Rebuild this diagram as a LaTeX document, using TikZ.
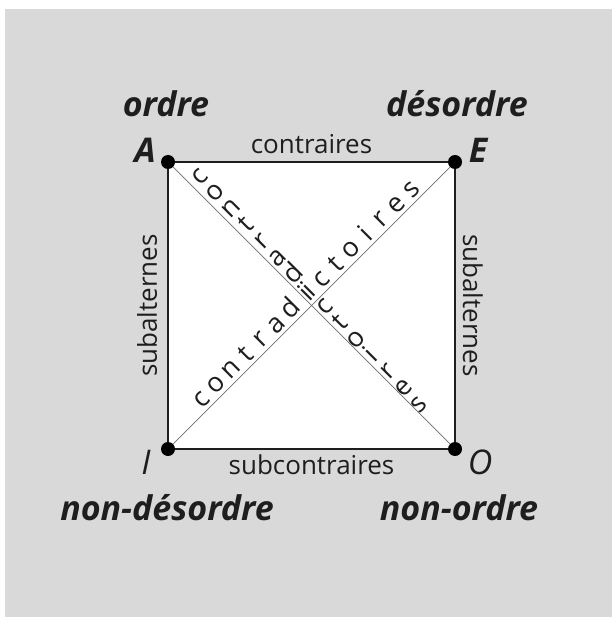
\documentclass[tikz,border=0pt]{standalone}
\usepackage{fontspec}
\setmainfont{Open Sans}
\usepackage{xcolor}
\usetikzlibrary{positioning}
\definecolor{cBack}{HTML}{D9D9D9}
\definecolor{cDiag}{HTML}{6E6E6E}
\definecolor{cInk}{HTML}{1E1E1E}
\tikzset{
  sqdot/.style={circle,fill=black,inner sep=0pt,minimum size=14pt},
  sqside/.style={line width=1.8pt,draw=cInk},
  sqdiag/.style={line width=0.7pt,draw=cDiag},
  sqrel/.style={font=\fontsize{26}{28}\selectfont,text=cInk,inner xsep=0pt},
  sqvert/.style={font=\fontsize{34}{36}\selectfont\bfseries\itshape,text=cInk,
      inner sep=0pt,anchor=base},
  sqterm/.style={font=\fontsize{34}{36}\selectfont\bfseries\itshape,text=cInk,
      inner sep=0pt,anchor=base},
  sqletter/.style={font=\fontsize{27}{29}\selectfont,text=cInk,inner sep=0pt,
      rotate=45,anchor=base},
}

\begin{document}
\begin{tikzpicture}[x=1pt,y=-1pt]
  \useasboundingbox (0,0) rectangle (612,617);
  \fill[cBack] (5,9) rectangle (612,617);
  \fill[white] (168,162) rectangle (455,449);

  % the four corners of the square
  \node[sqdot] (A) at (168,162) {};
  \node[sqdot] (E) at (455,162) {};
  \node[sqdot] (I) at (168,449) {};
  \node[sqdot] (O) at (455,449) {};

  \draw[sqdiag] (A) -- (O);
  \draw[sqdiag] (I) -- (E);

  \draw[sqside] (A) -- node[sqrel,above,inner ysep=7pt]{contraires} (E);
  \draw[sqside] (I) -- node[sqrel,below,inner ysep=5pt]{subcontraires} (O);
  \draw[sqside] (I) -- node[sqrel,sloped,above,inner ysep=10pt]{subalternes} (A);
  \draw[sqside] (E) -- node[sqrel,sloped,above,inner ysep=7pt]{subalternes} (O);

  % letters along the diagonals
  \foreach \ch [count=\i] in {c,o,n,t,r,a,d,i,c,t,o,i,r,e,s}{
    \node[sqletter] (up\i) at ({311.6+(\i-8)*15},{300-(\i-8)*15}) {\ch};
    \node[sqletter] (dn\i) at ({314.6+(\i-8)*15.7},{295.6+(\i-8)*16.3}) {\ch};
  }

  \node[sqvert] (lA) at (145,163) {A};
  \node[sqvert] (lE) at (478,163) {E};
  \node[sqvert,font=\fontsize{34}{36}\selectfont\itshape] (lI) at (146,474) {I};
  \node[sqvert,font=\fontsize{34}{36}\selectfont\itshape] (lO) at (480,474) {O};

  \node[sqterm] (ordre) at (166,117) {ordre};
  \node[sqterm] (desordre) at (457,117) {désordre};
  \node[sqterm] (nondesordre) at (167,520) {non-désordre};
  \node[sqterm] (nonordre) at (459,520) {non-ordre};
\end{tikzpicture}
\end{document}
